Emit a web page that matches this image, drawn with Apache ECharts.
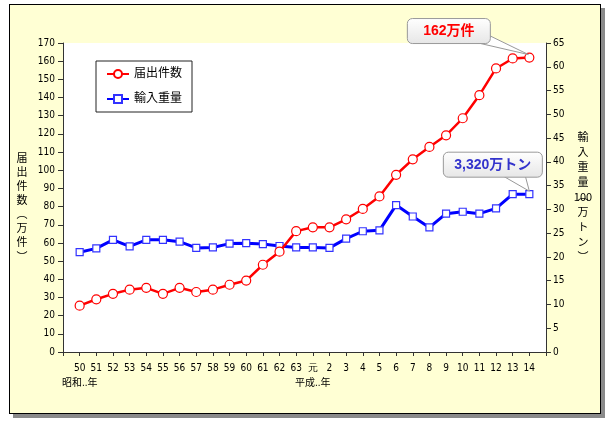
<!DOCTYPE html>
<html>
<head>
<meta charset="utf-8">
<script src="https://cdn.jsdelivr.net/npm/echarts@6/dist/echarts.min.js"></script>
<style>
html,body{margin:0;padding:0;background:#fff;}
#wrap{position:relative;width:609px;height:422px;}
#frame{position:absolute;left:9px;top:4px;width:590px;height:408px;border:1px solid #000;background:#FFFFD4;box-shadow:4px 4px 0 #8a8a8a;}
#main{position:absolute;left:0;top:0;width:609px;height:422px;}
</style>
</head>
<body>
<div id="wrap"><div id="frame"></div><div id="main"></div></div>
<script>
const categories = ['50','51','52','53','54','55','56','57','58','59','60','61','62','63','元','2','3','4','5','6','7','8','9','10','11','12','13','14'];
const todokede = [25.5, 29, 32, 34.3, 35.3, 32, 35.3, 33, 34.3, 37, 39.3, 48, 55.2, 66.5, 68.6, 68.6, 73, 78.7, 85.6, 97.5, 106, 112.8, 119.2, 128.6, 141.3, 156, 161.5, 162];
const yunyu = [21.0, 21.8, 23.6, 22.2, 23.6, 23.6, 23.2, 21.9, 22.0, 22.8, 22.9, 22.7, 22.3, 22.0, 22.0, 21.9, 23.85, 25.4, 25.6, 30.9, 28.5, 26.2, 29.1, 29.5, 29.1, 30.2, 33.2, 33.2];
const leftTicks = {min:0, max:170, interval:10};
const rightTicks = {min:0, max:65, interval:5};
const eraLabels = {'50':'昭和..年', '元':'平成..年'};
const callout1 = '162万件';
const callout2 = '3,320万トン';

const NUM = '"Liberation Sans Narrow","DejaVu Sans Condensed","Liberation Sans",sans-serif';
const CJK = '"Liberation Sans","Noto Sans CJK JP",sans-serif';

const xCats = [''].concat(categories).concat(['']);
const pad = a => [null].concat(a).concat([null]);

const chart = echarts.init(document.getElementById('main'));
chart.setOption({
  animation:false,
  backgroundColor:'transparent',
  grid:{left:63, right:63, top:43, bottom:70, show:true, backgroundColor:'#fff', borderWidth:0},
  legend:{
    orient:'vertical', left:96, top:61, padding:[7,10,7,10], itemGap:13,
    itemWidth:22, itemHeight:10,
    backgroundColor:'#fff', borderColor:'#222', borderWidth:1,
    textStyle:{fontSize:12, color:'#000', fontFamily:CJK},
    data:['届出件数','輸入重量']
  },
  xAxis:{
    type:'category', data:xCats, boundaryGap:false,
    axisLine:{lineStyle:{color:'#333', width:1}},
    axisTick:{show:true, interval:0, length:4, lineStyle:{color:'#333'}},
    axisLabel:{interval:0, margin:9, fontSize:10, color:'#000', fontFamily:NUM, lineHeight:15,
      formatter:v => eraLabels[v] ? v + '\n{e|' + eraLabels[v] + '}' : v,
      rich:{e:{fontSize:10, fontFamily:CJK, color:'#000', lineHeight:15}}
    },
    splitLine:{show:false}
  },
  yAxis:[
    {type:'value', min:leftTicks.min, max:leftTicks.max, interval:leftTicks.interval, position:'left',
      axisLine:{show:true, lineStyle:{color:'#333'}},
      axisTick:{show:true, length:5, lineStyle:{color:'#333'}},
      axisLabel:{fontSize:10, color:'#000', margin:8, fontFamily:NUM},
      splitLine:{show:false}},
    {type:'value', min:rightTicks.min, max:rightTicks.max, interval:rightTicks.interval, position:'right',
      axisLine:{show:true, lineStyle:{color:'#333'}},
      axisTick:{show:true, length:5, lineStyle:{color:'#333'}},
      axisLabel:{fontSize:10, color:'#000', margin:7, fontFamily:NUM},
      splitLine:{show:false}}
  ],
  series:[
    {name:'届出件数', type:'line', yAxisIndex:0, data:pad(todokede),
      symbol:'circle', symbolSize:9, showAllSymbol:true,
      lineStyle:{color:'#FF0000', width:2.5},
      itemStyle:{color:'#fff', borderColor:'#FF0000', borderWidth:1.2}, z:3},
    {name:'輸入重量', type:'line', yAxisIndex:1, data:pad(yunyu),
      symbol:'rect', symbolSize:7, showAllSymbol:true,
      lineStyle:{color:'#0000FF', width:3},
      itemStyle:{color:'#fff', borderColor:'#3333FF', borderWidth:1.2}, z:2}
  ]
});

const n = categories.length;
const p1 = chart.convertToPixel({seriesIndex:0}, [n, todokede[n-1]]);
const p2 = chart.convertToPixel({seriesIndex:1}, [n, yunyu[n-1]]);

const boxFill = new echarts.graphic.LinearGradient(0,0,0,1,[{offset:0,color:'#ffffff'},{offset:1,color:'#e6e6e6'}]);
function callout(bx, by, bw, bh, ptr, tip, text, color){
  return [
    {type:'polygon', shape:{points:[ptr[0], ptr[1], tip]}, style:{fill:'#fff', stroke:'#999', lineWidth:1}, z:10},
    {type:'rect', shape:{x:bx, y:by, width:bw, height:bh, r:5}, style:{fill:boxFill, stroke:'#999', lineWidth:1}, z:11},
    {type:'text', x:bx+bw/2, y:by+bh/2, style:{text:text, fill:color, font:'bold 14px "Liberation Sans","Noto Sans CJK JP",sans-serif', align:'center', verticalAlign:'middle'}, z:12}
  ];
}
// callout 1 (red)
const b1 = {x:p1[0]-122, y:p1[1]-39, w:83, h:25};
const c1 = callout(b1.x, b1.y, b1.w, b1.h,
  [[b1.x+b1.w-14, b1.y+b1.h-1], [b1.x+b1.w-1, b1.y+b1.h-8]], [p1[0]-1, p1[1]-3], callout1, '#FF0000');
// callout 2 (blue)
const b2 = {x:p2[0]-86, y:p2[1]-42, w:99, h:25};
const c2 = callout(b2.x, b2.y, b2.w, b2.h,
  [[p2[0]-26, b2.y+b2.h-1], [p2[0]-4, b2.y+b2.h-1]], [p2[0], p2[1]-3], callout2, '#3333CC');

const nameFont = '11px "Noto Sans CJK JP",sans-serif';
chart.setOption({
  graphic:[].concat(c1, c2, [
    {type:'text', x:22, y:207, style:{text:'届\n出\n件\n数\n︵\n万\n件\n︶', font:nameFont, fill:'#000', align:'center', verticalAlign:'middle', lineHeight:14.1}, z:5},
    {type:'text', x:583, y:197, style:{text:'輸\n入\n重\n量\n100\n万\nト\nン\n︶', font:nameFont, fill:'#000', align:'center', verticalAlign:'middle', lineHeight:15}, z:5},
    {type:'text', x:583, y:196, style:{text:'︵', font:nameFont, fill:'#000', align:'center', verticalAlign:'middle'}, z:5}
  ])
});
</script>
</body>
</html>
